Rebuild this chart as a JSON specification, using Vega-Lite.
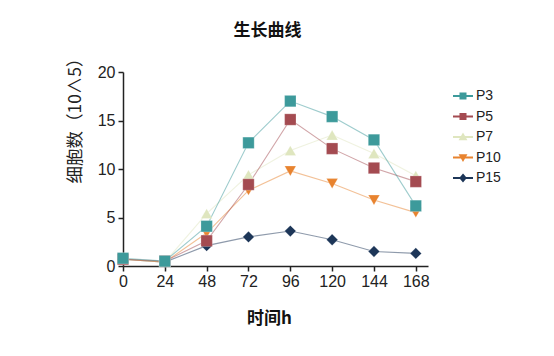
{
  "$schema": "https://vega.github.io/schema/vega-lite/v6.json",
  "autosize": "none",
  "width": 305,
  "height": 194,
  "padding": {"left": 123, "top": 72, "right": 126, "bottom": 90},
  "background": "white",
  "title": {
    "text": "生长曲线",
    "font": "Noto Sans CJK SC",
    "fontSize": 17,
    "fontWeight": "bold",
    "color": "#111",
    "offset": 9,
    "dx": -8
  },
  "data": {
    "values": [
      {"t": 0, "v": 0.7, "s": "P15"}, {"t": 24, "v": 0.4, "s": "P15"}, {"t": 48, "v": 2.1, "s": "P15"}, {"t": 72, "v": 3.0, "s": "P15"},
      {"t": 96, "v": 3.6, "s": "P15"}, {"t": 120, "v": 2.7, "s": "P15"}, {"t": 144, "v": 1.5, "s": "P15"}, {"t": 168, "v": 1.3, "s": "P15"},
      {"t": 0, "v": 0.7, "s": "P7"}, {"t": 24, "v": 0.4, "s": "P7"}, {"t": 48, "v": 5.4, "s": "P7"}, {"t": 72, "v": 9.4, "s": "P7"},
      {"t": 96, "v": 11.9, "s": "P7"}, {"t": 120, "v": 13.5, "s": "P7"}, {"t": 144, "v": 11.6, "s": "P7"}, {"t": 168, "v": 9.3, "s": "P7"},
      {"t": 0, "v": 0.7, "s": "P10"}, {"t": 24, "v": 0.4, "s": "P10"}, {"t": 48, "v": 3.4, "s": "P10"}, {"t": 72, "v": 7.8, "s": "P10"},
      {"t": 96, "v": 9.8, "s": "P10"}, {"t": 120, "v": 8.5, "s": "P10"}, {"t": 144, "v": 6.8, "s": "P10"}, {"t": 168, "v": 5.5, "s": "P10"},
      {"t": 0, "v": 0.7, "s": "P5"}, {"t": 24, "v": 0.5, "s": "P5"}, {"t": 48, "v": 2.6, "s": "P5"}, {"t": 72, "v": 8.4, "s": "P5"},
      {"t": 96, "v": 15.1, "s": "P5"}, {"t": 120, "v": 12.1, "s": "P5"}, {"t": 144, "v": 10.1, "s": "P5"}, {"t": 168, "v": 8.7, "s": "P5"},
      {"t": 0, "v": 0.8, "s": "P3"}, {"t": 24, "v": 0.5, "s": "P3"}, {"t": 48, "v": 4.1, "s": "P3"}, {"t": 72, "v": 12.7, "s": "P3"},
      {"t": 96, "v": 17.0, "s": "P3"}, {"t": 120, "v": 15.4, "s": "P3"}, {"t": 144, "v": 13.0, "s": "P3"}, {"t": 168, "v": 6.2, "s": "P3"}
    ]
  },
  "encoding": {
    "x": {
      "field": "t", "type": "quantitative",
      "scale": {"domain": [0, 175], "nice": false, "zero": false},
      "axis": {
        "values": [0, 24, 48, 72, 96, 120, 144, 168],
        "title": "时间h",
        "titleFont": "Noto Sans CJK SC", "titleFontSize": 17, "titleFontWeight": "bold", "titleColor": "#111",
        "titleX": 146, "titleY": 52, "titleBaseline": "middle", "titleAlign": "center",
        "labelFont": "Liberation Sans", "labelFontSize": 16, "labelColor": "#222", "labelPadding": 2, "labelFlush": false,
        "grid": false, "domainColor": "#222", "domainWidth": 1.5, "tickColor": "#222", "tickWidth": 1.5, "tickSize": 5
      }
    },
    "y": {
      "field": "v", "type": "quantitative",
      "scale": {"domain": [0, 20], "nice": false},
      "axis": {
        "values": [0, 5, 10, 15, 20],
        "title": "细胞数（10∧5）",
        "titleFont": "Noto Sans CJK SC", "titleFontSize": 17.5, "titleFontWeight": "normal", "titleColor": "#222",
        "titleAngle": -90, "titleX": -48, "titleY": 44, "titleAlign": "center", "titleBaseline": "middle",
        "labelFont": "Liberation Sans", "labelFontSize": 16, "labelColor": "#222", "labelPadding": 3, "labelFlush": false,
        "grid": false, "domainColor": "#222", "domainWidth": 1.5, "tickColor": "#222", "tickWidth": 1.5, "tickSize": 5
      }
    }
  },
  "layer": [
    {
      "mark": {"type": "line", "strokeWidth": 1.1, "opacity": 0.5},
      "encoding": {
        "color": {
          "field": "s", "type": "nominal",
          "scale": {"domain": ["P3", "P5", "P7", "P10", "P15"], "range": ["#3d9a9b", "#a44b51", "#dfe6bf", "#e8832f", "#1d3658"]},
          "legend": null
        },
        "detail": {"field": "s"}
      }
    },
    {
      "mark": {"type": "point", "filled": true, "opacity": 1, "stroke": "white", "strokeWidth": 0.6, "strokeOpacity": 0.4},
      "encoding": {
        "color": {
          "field": "s", "type": "nominal",
          "scale": {"domain": ["P3", "P5", "P7", "P10", "P15"], "range": ["#3d9a9b", "#a44b51", "#dfe6bf", "#e8832f", "#1d3658"]},
          "legend": null
        },
        "shape": {
          "field": "s", "type": "nominal",
          "scale": {"domain": ["P3", "P5", "P7", "P10", "P15"], "range": ["square", "square", "triangle-up", "triangle-down", "diamond"]},
          "legend": null
        },
        "size": {
          "field": "s", "type": "nominal",
          "scale": {"domain": ["P3", "P5", "P7", "P10", "P15"], "range": [130, 130, 125, 125, 170]},
          "legend": null
        }
      }
    },
    {
      "transform": [{"filter": "false"}],
      "mark": {"type": "point", "filled": true, "opacity": 1},
      "encoding": {
        "color": {
          "field": "s", "type": "nominal",
          "scale": {"domain": ["P3", "P5", "P7", "P10", "P15"], "range": ["#3d9a9b", "#a44b51", "#dfe6bf", "#e8832f", "#1d3658"]},
          "legend": {
            "title": null, "orient": "none", "legendX": 329, "legendY": 13,
            "symbolSize": 400, "symbolStrokeWidth": 2, "rowPadding": 2.5,
            "labelFont": "Liberation Sans", "labelFontSize": 14, "labelColor": "#222", "labelOffset": 2
          }
        },
        "stroke": {
          "field": "s", "type": "nominal",
          "scale": {"domain": ["P3", "P5", "P7", "P10", "P15"], "range": ["#3d9a9b", "#a44b51", "#dfe6bf", "#e8832f", "#1d3658"]},
          "legend": {
            "title": null, "orient": "none", "legendX": 329, "legendY": 13,
            "symbolSize": 400, "symbolStrokeWidth": 2, "rowPadding": 2.5,
            "labelFont": "Liberation Sans", "labelFontSize": 14, "labelColor": "#222", "labelOffset": 2
          }
        },
        "shape": {
          "field": "s", "type": "nominal",
          "scale": {"domain": ["P3", "P5", "P7", "P10", "P15"], "range": [
            "M-1,0H1M-0.25,-0.25H0.25V0.25H-0.25Z",
            "M-1,0H1M-0.25,-0.25H0.25V0.25H-0.25Z",
            "M-1,0H1M0,-0.25L0.27,0.22L-0.27,0.22Z",
            "M-1,0H1M0,0.25L0.27,-0.22L-0.27,-0.22Z",
            "M-1,0H1M0,-0.3L0.25,0L0,0.3L-0.25,0Z"
          ]},
          "legend": {
            "title": null, "orient": "none", "legendX": 329, "legendY": 13,
            "symbolSize": 400, "symbolStrokeWidth": 2, "rowPadding": 2.5,
            "labelFont": "Liberation Sans", "labelFontSize": 14, "labelColor": "#222", "labelOffset": 2
          }
        }
      }
    }
  ],
  "resolve": {
    "scale": {"color": "independent", "shape": "independent", "stroke": "independent", "size": "independent"},
    "legend": {"color": "independent", "shape": "independent", "stroke": "independent", "size": "independent"}
  },
  "config": {"view": {"stroke": null}}
}
